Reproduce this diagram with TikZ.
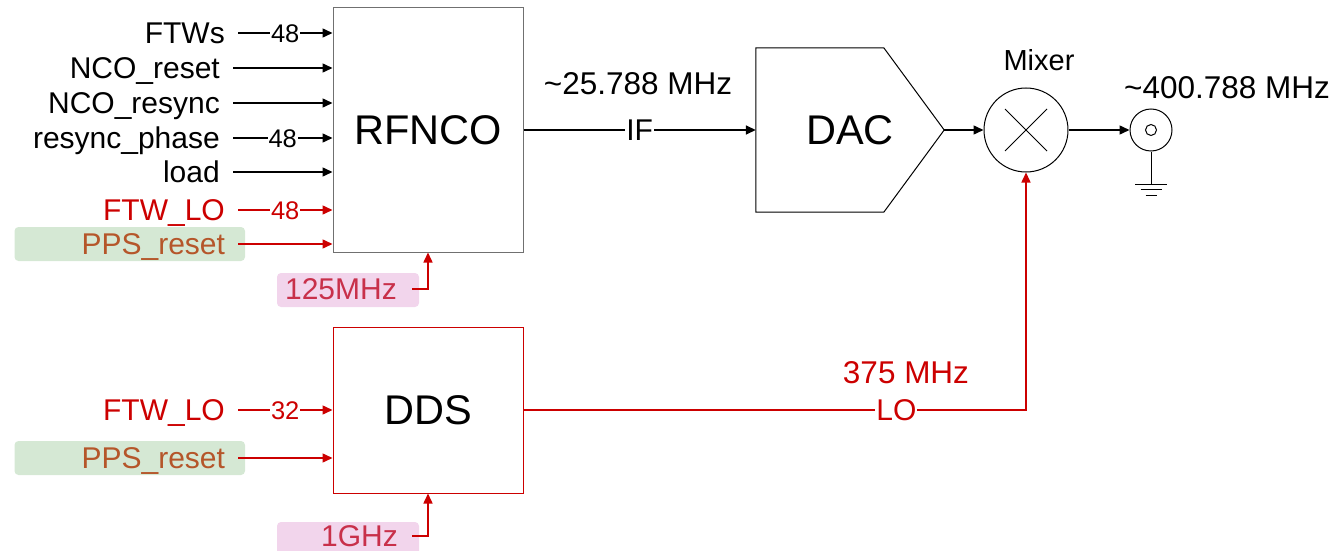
\documentclass[tikz,border=0pt]{standalone}
\usepackage{fontspec}
\setmainfont{Liberation Sans}
\usetikzlibrary{arrows.meta,calc}
\definecolor{cred}{HTML}{CC0000}
\definecolor{cbrown}{HTML}{B5562A}
\definecolor{cgreen}{HTML}{D5E8D4}
\definecolor{cpinkbg}{HTML}{F2D5EC}
\definecolor{cpinktx}{HTML}{C8304A}
\definecolor{cgray}{HTML}{707070}
\newcommand{\lblfont}{\fontsize{30}{35}\selectfont}
\newcommand{\freqfont}{\fontsize{31.5}{37}\selectfont}
\newcommand{\numfont}{\fontsize{25.5}{30}\selectfont}
\newcommand{\titlefont}{\fontsize{41.5}{48}\selectfont}
\begin{document}
\begin{tikzpicture}[x=1pt,y=-1pt,
  lbl/.style={font=\lblfont, inner sep=0pt, text height=21.5pt, text depth=0pt},
  lble/.style={lbl, anchor=east},
  freq/.style={font=\freqfont, inner sep=0pt, text height=22.5pt, text depth=0pt},
  num/.style={font=\numfont, fill=white, inner sep=1pt, text height=18.3pt, text depth=0pt},
  sig/.style={line width=1.5pt, -{Triangle[length=10pt,width=9pt]}},
  blockbox/.style={line width=1pt, minimum width=190pt, inner sep=0pt, font=\titlefont},
  ppsbox/.style={lbl, fill=cgreen, rounded corners=4pt, text=cbrown, text width=190.5pt, align=right, inner xsep=20pt, minimum height=34pt},
  clkbg/.style={fill=cpinkbg, rounded corners=4pt, minimum width=142pt, minimum height=34pt, inner sep=0pt},
  thin/.style={line width=1pt}]
\useasboundingbox (0,0) rectangle (1342,551);

% blocks
\node[blockbox, draw=cgray, minimum height=244pt] (rfnco) at (428,130) {RFNCO};
\node[blockbox, draw=cred, minimum height=166pt] (dds) at (428,410) {DDS};

% RFNCO inputs
\node[lble] (ftws) at (225,33) {FTWs};
\node[lble] (ncoreset) at (220,68) {NCO\_reset};
\node[lble] (ncoresync) at (220,103) {NCO\_resync};
\node[lble] (rphase) at (220,138) {resync\_phase};
\node[lble] (load) at (220,172) {load};
\node[lble, text=cred] (ftwlo1) at (225,210) {FTW\_LO};
\node[ppsbox] (pps1) at (129.75,244) {PPS\_reset};

\draw[sig] ([xshift=13pt]ftws.east) -- (ftws -| rfnco.west) node[num, midway] {48};
\draw[sig] ([xshift=13pt]ncoreset.east) -- (ncoreset -| rfnco.west);
\draw[sig] ([xshift=13pt]ncoresync.east) -- (ncoresync -| rfnco.west);
\draw[sig] ([xshift=13pt]rphase.east) -- (rphase -| rfnco.west) node[num, midway] {48};
\draw[sig] ([xshift=13pt]load.east) -- (load -| rfnco.west);
\draw[sig, cred] ([xshift=13pt]ftwlo1.east) -- (ftwlo1 -| rfnco.west) node[num, midway, text=cred] {48};
\draw[sig, cred] ([xshift=-7pt]pps1.east) -- (pps1 -| rfnco.west);

% RFNCO clock
\node[clkbg] (clk1bg) at (348,290) {};
\node[lble, text=cpinktx] (clk1) at (397,289) {125MHz};
\draw[sig, cred] ([xshift=15pt]clk1.east) -| (rfnco.south);

% DDS inputs
\node[lble, text=cred] (ftwlo2) at (225,410) {FTW\_LO};
\node[ppsbox] (pps2) at (129.75,458) {PPS\_reset};
\draw[sig, cred] ([xshift=13pt]ftwlo2.east) -- (ftwlo2 -| dds.west) node[num, midway, text=cred] {32};
\draw[sig, cred] ([xshift=-7pt]pps2.east) -- (pps2 -| dds.west);

% DDS clock
\node[clkbg] (clk2bg) at (348,539) {};
\node[lble, text=cpinktx] (clk2) at (398,536) {1GHz};
\draw[sig, cred] ([xshift=14pt]clk2.east) -| (dds.south);

% DAC
\node[minimum width=188pt, minimum height=164pt, inner sep=0pt, font=\titlefont] (dac) at (850,130) {DAC};
\draw[thin] (dac.north west) -- ($(dac.north west)+(128,0)$) -- (dac.east) -- ($(dac.south west)+(128,0)$) -- (dac.south west) -- cycle;

% IF
\node[freq] (iffreq) at (638,83) {\textasciitilde 25.788 MHz};
\draw[sig] (rfnco.east) -- (rfnco.east -| dac.west) node[lbl, midway, fill=white, inner xsep=1pt] {IF};

% Mixer
\node[circle, draw, thin, minimum size=84pt, inner sep=0pt] (mixer) at (1026,130) {};
\draw[thin] ($(mixer.center)+(-21,-21)$) -- ($(mixer.center)+(21,21)$);
\draw[thin] ($(mixer.center)+(-21,21)$) -- ($(mixer.center)+(21,-21)$);
\node[lbl, font=\fontsize{29}{34}\selectfont] (mixlbl) at (1039,60) {Mixer};
\draw[sig] (dac.east) -- (mixer.west);

% Antenna / output
\node[circle, draw, thin, minimum size=42pt, inner sep=0pt] (ant) at (1151,130) {};
\node[circle, draw, thin, minimum size=11pt, inner sep=0pt] (antin) at (ant.center) {};
\coordinate (gnd) at (1151,184);
\draw[thin] (ant.south) -- (gnd);
\draw[thin] ($(gnd)+(-16,0)$) -- ($(gnd)+(16,0)$);
\draw[thin] ($(gnd)+(-10.5,5.5)$) -- ($(gnd)+(10.5,5.5)$);
\draw[thin] ($(gnd)+(-5.5,11)$) -- ($(gnd)+(5.5,11)$);
\node[freq] (outfreq) at (1227,87) {\textasciitilde 400.788 MHz};
\draw[sig] (mixer.east) -- (ant.west);

% LO
\node[freq, text=cred] (lofreq) at (906,372) {375 MHz};
\draw[sig, cred] (dds.east) -| (mixer.south) node[lbl, pos=0.371, fill=white, inner xsep=1pt, text=cred] {LO};
\end{tikzpicture}
\end{document}
